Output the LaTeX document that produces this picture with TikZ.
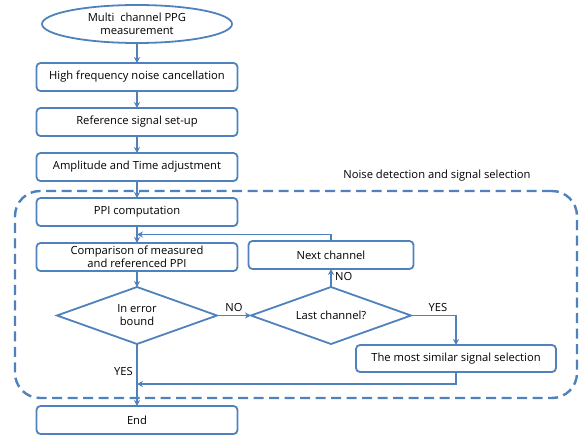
\documentclass[tikz,border=0pt]{standalone}
\usepackage{fontspec}
\setmainfont{Open Sans}
\usetikzlibrary{shapes,arrows,arrows.meta,positioning,calc}
\definecolor{flowblue}{RGB}{79,129,189}

\begin{document}
\begin{tikzpicture}[x=1pt,y=-1pt,node distance=17pt,>={Stealth[length=6pt,width=6pt]},
  font=\fontsize{11.2}{13}\selectfont,
  block/.style={draw=flowblue,line width=1.8pt,rounded corners=4pt,minimum width=201pt,minimum height=28pt,align=center,inner sep=1pt,outer sep=0pt},
  startstop/.style={draw=flowblue,line width=1.8pt,ellipse,minimum width=190pt,minimum height=38pt,align=center,inner sep=0pt,outer sep=0pt},
  decision/.style={draw=flowblue,line width=1.8pt,diamond,aspect=2.8,minimum width=160pt,minimum height=57pt,align=center,inner sep=0pt,outer sep=0pt},
  groupbox/.style={draw=flowblue,line width=2.4pt,dash pattern=on 10pt off 5.5pt,rounded corners=25pt,minimum width=562pt,minimum height=207pt},
  flow/.style={draw=flowblue,line width=1.8pt,->}]
\useasboundingbox (0,0) rectangle (581,436);
\node[groupbox] (group) at (296,294.5) {};
\node (grouplabel) at (437,176) {Noise detection and signal selection};

\node[startstop] (start) at (137,24) {Multi\ \ channel PPG\\measurement};
\node[block,below=20pt of start] (hf) {High frequency noise cancellation};
\node[block,below=of hf] (ref) {Reference signal set-up};
\node[block,below=of ref] (amp) {Amplitude and Time adjustment};
\node[block,below=of amp] (ppi) {PPI computation};
\node[block,below=of ppi] (comp) {Comparison of measured\\and referenced PPI};
\node[decision,below=16pt of comp] (err) {In error\\bound};
\node[decision,right=34pt of err] (last) {Last channel?};
\node[block,minimum width=165pt,above=18pt of last] (next) {Next channel};
\node[block,minimum width=200pt,minimum height=27pt] (sel) at ($(last.east)+(45,43)$) {The most similar signal selection};
\node[block,below=62pt of err] (end) {End};

\coordinate (join) at ($(ppi.south)!.5!(comp.north)$);
\coordinate (merge) at ($(err.south)+(0,40)$);

\draw[flow] (start) -- (hf);
\draw[flow] (hf) -- (ref);
\draw[flow] (ref) -- (amp);
\draw[flow] (amp) -- (ppi);
\draw[flow] (ppi) -- (comp);
\draw[flow] (comp) -- (err);
\draw[flow] (err) -- node[above] {NO} (last);
\draw[flow] (last) -- node[right,pos=.6] {NO} (next);
\draw[flow] (next.north) |- (join);
\draw[flow] (last.east) -| node[above,pos=.3] {YES} (sel.north);
\draw[flow] (sel.south) |- (merge);
\draw[flow] (err) -- node[left,pos=.45] {YES} (end);
\end{tikzpicture}
\end{document}
